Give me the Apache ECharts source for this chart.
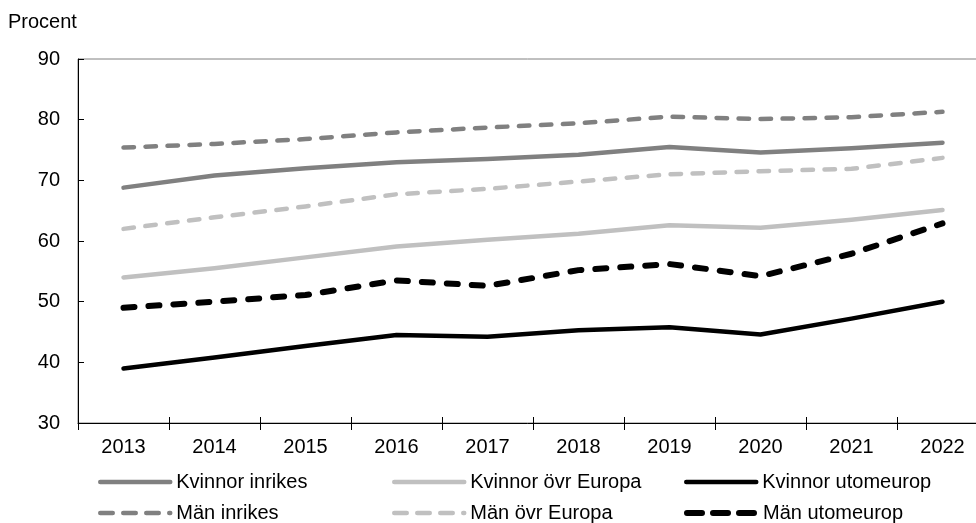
<!DOCTYPE html>
<html>
<head>
<meta charset="utf-8">
<script src="https://cdn.jsdelivr.net/npm/echarts@6/dist/echarts.min.js"></script>
<style>html,body{margin:0;padding:0;background:#fff}#c{width:976px;height:523px}</style>
</head>
<body>
<div id="c"></div>
<script>
var years = ['2013','2014','2015','2016','2017','2018','2019','2020','2021','2022'];
var kvinnorInrikes = [68.8, 70.8, 72.0, 73.0, 73.5, 74.2, 75.5, 74.6, 75.3, 76.2];
var kvinnorOvrEuropa = [54.0, 55.5, 57.3, 59.1, 60.2, 61.2, 62.6, 62.2, 63.5, 65.1];
var kvinnorUtomeurop = [39.0, 40.8, 42.7, 44.5, 44.2, 45.3, 45.8, 44.6, 47.2, 50.0];
var manInrikes = [75.4, 76.0, 76.8, 77.9, 78.7, 79.4, 80.5, 80.1, 80.4, 81.3];
var manOvrEuropa = [62.0, 63.9, 65.7, 67.7, 68.6, 69.8, 71.0, 71.5, 71.9, 73.7];
var manUtomeurop = [49.0, 50.0, 51.1, 53.5, 52.6, 55.2, 56.2, 54.2, 57.9, 62.9];
var yTicks = {min: 30, max: 90, interval: 10};

var font = 'Liberation Sans, Arial, sans-serif';
function line(name, data, color, width, dashed) {
  return {
    name: name, type: 'line', data: data, symbol: 'none', showSymbol: false,
    itemStyle: {color: color},
    lineStyle: {color: color, width: width, type: dashed ? dashed : 'solid', cap: 'round', join: 'round'},
    animation: false
  };
}
function leg(name, left, top, color, width, dashed) {
  return {
    left: left, top: top, padding: 0, itemWidth: 70, itemHeight: 14,
    selectedMode: false, data: [name],
    itemStyle: {opacity: 0},
    lineStyle: {color: color, width: width, type: dashed ? dashed : 'solid', cap: 'round'},
    textStyle: {fontFamily: font, fontSize: 20, color: '#000', padding: [0, 0, 0, 1]}
  };
}
var chart = echarts.init(document.getElementById('c'));
chart.setOption({
  animation: false,
  title: {text: 'Procent', left: 8, top: 12, padding: 0, textStyle: {fontFamily: font, fontSize: 20, fontWeight: 'normal', color: '#000'}},
  grid: {left: 78, top: 59, width: 910, height: 364, show: true, borderColor: '#808080', borderWidth: 1, outerBoundsMode: 'none', containLabel: false},
  xAxis: [{
    type: 'category', data: years, boundaryGap: true,
    axisLine: {lineStyle: {color: '#000', width: 1}},
    axisTick: {show: true, length: 7, interval: 0, lineStyle: {color: '#000'}},
    axisLabel: {fontFamily: font, fontSize: 20, color: '#000', margin: 14, interval: 0}
  }, {
    type: 'category', data: years, boundaryGap: true, position: 'bottom',
    axisLine: {show: false},
    axisTick: {show: true, inside: true, length: 6, interval: 0, lineStyle: {color: '#000'}},
    axisLabel: {show: false}
  }],
  yAxis: {
    type: 'value', min: yTicks.min, max: yTicks.max, interval: yTicks.interval,
    axisLine: {show: true, lineStyle: {color: '#000', width: 1}},
    axisTick: {show: true, inside: true, length: 6, lineStyle: {color: '#000'}},
    splitLine: {show: false},
    axisLabel: {fontFamily: font, fontSize: 20, color: '#000', margin: 18}
  },
  legend: [
    leg('Kvinnor inrikes', 98, 472, '#808080', 4.5),
    leg('Män inrikes', 98, 503, '#808080', 4.5, [12.5, 10.5]),
    leg('Kvinnor övr Europa', 392, 472, '#c0c0c0', 4.5),
    leg('Män övr Europa', 392, 503, '#c0c0c0', 4.5, [12.5, 10.5]),
    leg('Kvinnor utomeurop', 684, 472, '#000000', 4.5),
    leg('Män utomeurop', 684, 503, '#000000', 6, [15, 11])
  ],
  series: [
    line('Kvinnor inrikes', kvinnorInrikes, '#808080', 4.5),
    line('Kvinnor övr Europa', kvinnorOvrEuropa, '#c0c0c0', 4.5),
    line('Kvinnor utomeurop', kvinnorUtomeurop, '#000000', 4.5),
    line('Män inrikes', manInrikes, '#808080', 4.5, [10.5, 11.5]),
    line('Män övr Europa', manOvrEuropa, '#c0c0c0', 4.5, [10.5, 11.5]),
    line('Män utomeurop', manUtomeurop, '#000000', 6, [11, 14])
  ]
});
</script>
</body>
</html>
